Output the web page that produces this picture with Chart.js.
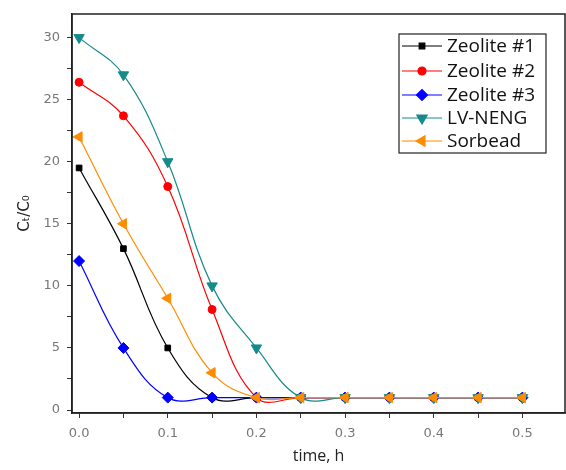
<!DOCTYPE html>
<html lang="en">
<head>
  <meta charset="UTF-8">
  <title>Ct/C0 vs time</title>
  <script src="https://cdn.jsdelivr.net/npm/chart.js"></script>
  <style>
    body { margin: 0; background: #fff; }
    .wrap { width: 566px; height: 470px; position: relative; }
  </style>
</head>
<body>
<div class="wrap"><canvas id="chart"></canvas></div>
<script>
  // time points (h)
  const times = [0, 0.05, 0.1, 0.15, 0.2, 0.25, 0.3, 0.35, 0.4, 0.45, 0.5];

  const zeolite1 = [19.5, 13, 5, 1, 1, 1, 1, 1, 1, 1, 1];
  const zeolite2 = [26.4, 23.7, 18, 8.1, 1, 1, 1, 1, 1, 1, 1];
  const zeolite3 = [12, 5, 1, 1, 1, 1, 1, 1, 1, 1, 1];
  const lvNeng   = [30, 27, 20, 10, 5, 1, 1, 1, 1, 1, 1];
  const sorbead  = [22, 15, 9, 3, 1, 1, 1, 1, 1, 1, 1];

  const seriesNames = ['Zeolite #1', 'Zeolite #2', 'Zeolite #3', 'LV-NENG', 'Sorbead'];

  // major + minor tick positions
  const xTicks = [0, 0.05, 0.1, 0.15, 0.2, 0.25, 0.3, 0.35, 0.4, 0.45, 0.5];
  const yTicks = [0, 2.5, 5, 7.5, 10, 12.5, 15, 17.5, 20, 22.5, 25, 27.5, 30];

  function pts(vals) {
    return vals.map((v, i) => ({ x: times[i], y: v }));
  }

  function ds(label, vals, color, style, radius, rotation, order) {
    return {
      label: label,
      data: pts(vals),
      borderColor: color,
      backgroundColor: color,
      borderWidth: 1.2,
      pointStyle: style,
      pointRadius: radius,
      pointHoverRadius: radius,
      pointRotation: rotation,
      pointBorderWidth: 1,
      tension: 0.4,
      order: order
    };
  }

  const datasets = [
    ds(seriesNames[0], zeolite1, '#000000', 'rect', 4, 0, 4),
    ds(seriesNames[1], zeolite2, '#ff0000', 'circle', 4, 0, 3),
    ds(seriesNames[2], zeolite3, '#0000ff', 'rectRot', 5.5, 0, 2),
    ds(seriesNames[3], lvNeng, '#168a8a', 'triangle', 6, 180, 1),
    ds(seriesNames[4], sorbead, '#ff8c00', 'triangle', 6, 270, 0)
  ];

  // frame round the plot + legend box inside
  const framePlugin = {
    id: 'frame',
    afterDraw(chart) {
      const { ctx, chartArea: a } = chart;
      ctx.save();
      ctx.strokeStyle = '#222';
      ctx.lineWidth = 1.5;
      ctx.strokeRect(a.left, a.top, a.right - a.left, a.bottom - a.top);

      // legend
      const bx = 399, by = 34, bw = 147, bh = 119;
      ctx.fillStyle = '#fff';
      ctx.fillRect(bx, by, bw, bh);
      ctx.lineWidth = 1.2;
      ctx.strokeRect(bx, by, bw, bh);
      const rows = [46, 71, 95, 118, 141];
      ctx.font = '19px "Open Sans", sans-serif';
      ctx.textBaseline = 'middle';
      chart.data.datasets.forEach((d, i) => {
        const y = rows[i];
        ctx.strokeStyle = d.borderColor;
        ctx.lineWidth = 1.2;
        ctx.beginPath();
        ctx.moveTo(bx + 3, y);
        ctx.lineTo(bx + 43, y);
        ctx.stroke();
        ctx.fillStyle = d.backgroundColor;
        Chart.helpers.drawPoint(ctx, {
          pointStyle: d.pointStyle,
          rotation: d.pointRotation,
          radius: d.pointRadius,
          borderWidth: 1
        }, bx + 23, y);
        ctx.fillStyle = '#111';
        ctx.fillText(d.label, bx + 48, y + 1);
      });
      ctx.restore();
    }
  };

  new Chart(document.getElementById('chart'), {
    type: 'line',
    data: { datasets: datasets },
    plugins: [framePlugin],
    options: {
      responsive: true,
      maintainAspectRatio: false,
      animation: false,
      layout: { autoPadding: false, padding: { top: 14, right: 1, left: 6, bottom: 0 } },
      plugins: { legend: { display: false }, tooltip: { enabled: false } },
      scales: {
        x: {
          type: 'linear',
          min: -0.008,
          max: 0.548,
          afterBuildTicks(scale) { scale.ticks = xTicks.map(v => ({ value: v })); },
          afterFit(scale) {
            scale.height = 57;
            scale.paddingLeft = 0;
            scale.paddingRight = 0;
          },
          border: { display: true, color: '#222', width: 1.5 },
          grid: { drawOnChartArea: false, drawTicks: true, tickLength: 5, color: '#333' },
          ticks: {
            color: '#777',
            font: { size: 13, family: '"DejaVu Sans", sans-serif' },
            padding: 8,
            maxRotation: 0,
            autoSkip: false,
            callback(v) {
              const r = Math.round(v * 100);
              return r % 10 === 0 ? (r / 100).toFixed(1) : '';
            }
          },
          title: {
            display: true,
            text: 'time, h',
            color: '#222',
            font: { size: 16, family: '"Open Sans", sans-serif' },
            padding: { top: 8 }
          }
        },
        y: {
          type: 'linear',
          min: -0.24,
          max: 31.9,
          afterBuildTicks(scale) { scale.ticks = yTicks.map(v => ({ value: v })); },
          afterFit(scale) {
            scale.width = 66;
            scale.paddingTop = 0;
            scale.paddingBottom = 0;
          },
          border: { display: true, color: '#222', width: 1.5 },
          grid: { drawOnChartArea: false, drawTicks: true, tickLength: 5, color: '#333' },
          ticks: {
            color: '#777',
            font: { size: 13, family: '"DejaVu Sans", sans-serif' },
            padding: 7,
            autoSkip: false,
            callback(v) {
              return Math.abs(v % 5) < 1e-6 ? String(v) : '';
            }
          },
          title: {
            display: true,
            text: 'Cₜ/C₀',
            color: '#222',
            font: { size: 15, family: '"DejaVu Sans", sans-serif' },
            padding: { top: 10, bottom: 4 }
          }
        }
      }
    }
  });
</script>
</body>
</html>
